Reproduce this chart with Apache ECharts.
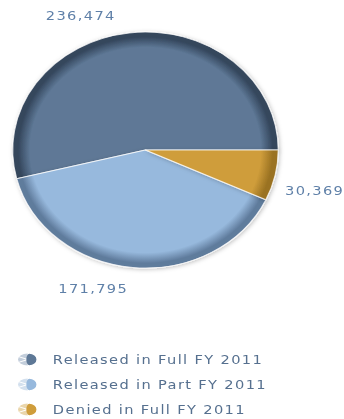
<!DOCTYPE html>
<html>
<head>
<meta charset="utf-8">
<script src="https://cdn.jsdelivr.net/npm/echarts@6/dist/echarts.min.js"></script>
<style>
  html, body { margin: 0; padding: 0; background: #ffffff; overflow: hidden; width: 344px; height: 419px; }
  /* drawn narrower, then widened so the pie reads as a flat ellipse */
  #chart { width: 320px; height: 450px; transform: scaleX(1.125); transform-origin: 0 0; }
  #chart text { letter-spacing: 1.2px; }
</style>
</head>
<body>
<div id="chart"></div>
<script>
// FOIA request outcomes, FY 2011
const categories = ['Released in Full FY 2011', 'Released in Part FY 2011', 'Denied in Full FY 2011'];
const requestCounts = [236474, 171795, 30369];
const sliceColors = ['#5e7896', '#97b9dd', '#cf9d3b'];
const rimColors = ['#34465c', '#5f7b9c', '#9a7222'];
const paleColors = ['#c3cedb', '#d3e0ee', '#ead6ab'];

const CX = 129.3, CY = 150, R = 118;

function sliceFill(i) {
  return {
    type: 'radial', x: CX, y: CY, r: R, global: true,
    colorStops: [
      { offset: 0, color: sliceColors[i] },
      { offset: 0.87, color: sliceColors[i] },
      { offset: 0.96, color: rimColors[i] },
      { offset: 1, color: rimColors[i] }
    ]
  };
}

function legendIcon(i) {
  const svg =
    '<svg xmlns="http://www.w3.org/2000/svg" width="18" height="13" viewBox="0 0 18 13">' +
    '<path d="M9.6,0.6 A8.6,5.9 0 0 0 9.6,12.4 Z" fill="' + paleColors[i] + '"/>' +
    '<path d="M9.6,6.5 L0.8,3.4 M9.6,6.5 L0.8,9.6" stroke="#ffffff" stroke-width="1"/>' +
    '<path d="M11,0.7 A6.4,5.8 0 0 1 11,12.3 A2.6,5.8 0 0 1 11,0.7 Z" fill="' + sliceColors[i] + '"/>' +
    '</svg>';
  return 'image://data:image/svg+xml;charset=utf-8,' + encodeURIComponent(svg);
}

// nudges for the value labels around the rim
const labelShift = [[-6, -9.5], [1.5, 12.5], [-4, 13]];

const chart = echarts.init(document.getElementById('chart'), null, { renderer: 'svg' });
chart.setOption({
  animation: false,
  legend: {
    orient: 'vertical',
    left: 15,
    top: 353,
    padding: 0,
    itemWidth: 18,
    itemHeight: 13,
    itemGap: 12,
    selectedMode: false,
    data: categories.map((name, i) => ({ name, icon: legendIcon(i) })),
    textStyle: {
      fontFamily: 'DejaVu Sans',
      fontSize: 13,
      lineHeight: 13,
      color: '#56708f',
      padding: [0, 0, 0, 9]
    }
  },
  series: [{
    type: 'pie',
    center: [CX, CY],
    radius: R,
    startAngle: 0,
    clockwise: false,
    avoidLabelOverlap: false,
    emphasis: { disabled: true },
    label: {
      show: true,
      position: 'outside',
      fontFamily: 'DejaVu Sans',
      fontSize: 13,
      color: '#5f80a8',
      formatter: p => p.value.toLocaleString('en-US')
    },
    labelLine: { show: false, length: 8, length2: 0 },
    labelLayout: p => ({ dx: labelShift[p.dataIndex][0], dy: labelShift[p.dataIndex][1] }),
    itemStyle: {
      borderColor: 'rgba(255,255,255,0.75)',
      borderWidth: 1,
      shadowBlur: 4,
      shadowColor: 'rgba(0,0,0,0.25)',
      shadowOffsetX: 1,
      shadowOffsetY: 1
    },
    data: categories.map((name, i) => ({
      name,
      value: requestCounts[i],
      itemStyle: { color: sliceFill(i) }
    }))
  }]
});
</script>
</body>
</html>
